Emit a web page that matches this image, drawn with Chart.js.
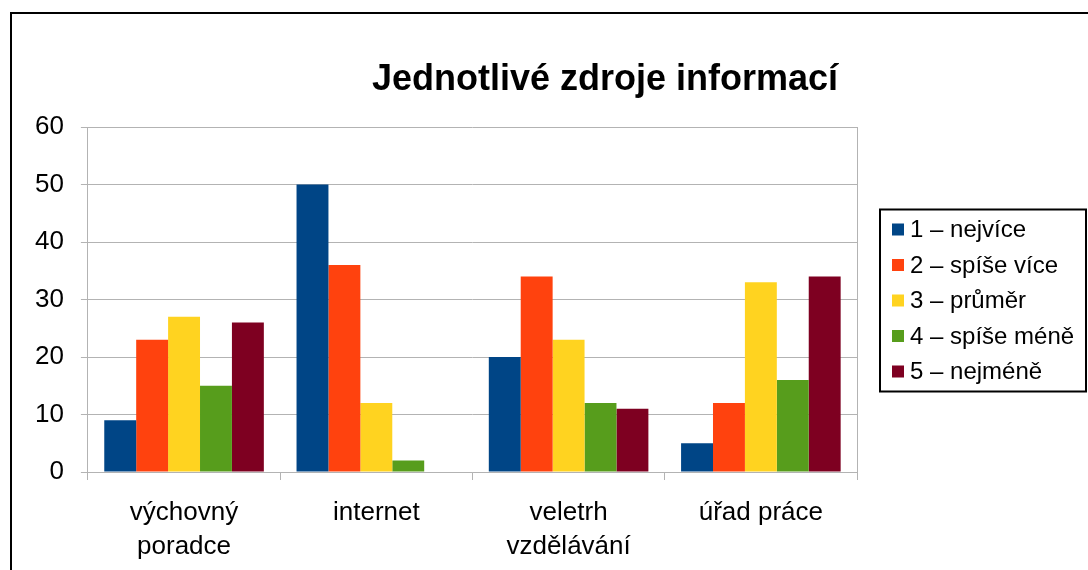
<!DOCTYPE html>
<html>
<head>
<meta charset="utf-8">
<script src="https://cdn.jsdelivr.net/npm/chart.js@4.4.1/dist/chart.umd.min.js"></script>
<style>
    html, body { margin: 0; padding: 0; background: #ffffff; overflow: hidden; }
    #frame { position: absolute; left: 10px; top: 12px; width: 1100px; height: 600px; border: 2px solid #000; box-sizing: border-box; }
    #wrap { position: absolute; left: 0; top: 0; width: 1088px; height: 570px; }
</style>
</head>
<body>
<div id="frame"></div>
<div id="wrap"><canvas id="zdroje"></canvas></div>
<script>
const categories = [["výchovný", "poradce"], "internet", ["veletrh", "vzdělávání"], "úřad práce"];
const seriesNames = ["1 – nejvíce", "2 – spíše více", "3 – průměr", "4 – spíše méně", "5 – nejméně"];
const nejvice = [9, 50, 20, 5];
const spiseVice = [23, 36, 34, 12];
const prumer = [27, 12, 23, 33];
const spiseMene = [15, 2, 12, 16];
const nejmene = [26, 0, 11, 34];
const yTicks = [0, 10, 20, 30, 40, 50, 60];
const colors = ["#004586", "#ff420e", "#ffd320", "#579d1c", "#7e0021"];

const titleText = "Jednotlivé zdroje informací";
const fontFamily = '"Liberation Sans", Arial, sans-serif';

// title sits off-centre in the original, so draw it by hand
const titlePlugin = {
    id: 'titlePlugin',
    afterDraw: function (chart) {
        const ctx = chart.ctx;
        ctx.save();
        ctx.font = 'bold 36px ' + fontFamily;
        ctx.fillStyle = '#000';
        ctx.textAlign = 'center';
        ctx.textBaseline = 'middle';
        ctx.fillText(titleText, 605, 80);
        ctx.restore();
    }
};

// right edge of the plot area
const plotBorder = {
    id: 'plotBorder',
    afterDraw: function (chart) {
        const a = chart.chartArea;
        const ctx = chart.ctx;
        ctx.save();
        ctx.strokeStyle = '#b3b3b3';
        ctx.lineWidth = 1;
        ctx.beginPath();
        ctx.moveTo(a.right + 0.5, a.top);
        ctx.lineTo(a.right + 0.5, a.bottom);
        ctx.stroke();
        ctx.restore();
    }
};

// boxed legend to the right of the plot
const boxedLegend = {
    id: 'boxedLegend',
    afterDraw: function (chart) {
        const a = chart.chartArea;
        const ctx = chart.ctx;
        const sets = chart.data.datasets;
        const rowH = 35.5;
        const boxW = 206, boxH = 182;
        const left = a.right + 23;
        const top = (a.top + a.bottom) / 2 - boxH / 2 + 1;
        ctx.save();
        ctx.strokeStyle = '#000';
        ctx.lineWidth = 2;
        ctx.strokeRect(left, top, boxW, boxH);
        ctx.font = '24px ' + fontFamily;
        ctx.textBaseline = 'middle';
        ctx.textAlign = 'left';
        sets.forEach(function (ds, i) {
            const cy = top + 20 + i * rowH;
            ctx.fillStyle = ds.backgroundColor;
            ctx.fillRect(left + 12, cy - 6, 12, 12);
            ctx.fillStyle = '#000';
            ctx.fillText(ds.label, left + 30, cy + 1);
        });
        ctx.restore();
    }
};

const allSeries = [nejvice, spiseVice, prumer, spiseMene, nejmene];

const ctx = document.getElementById('zdroje').getContext('2d');
const chart = new Chart(ctx, {
    type: 'bar',
    data: {
        labels: categories,
        datasets: allSeries.map(function (values, i) {
            return {
                label: seriesNames[i],
                data: values,
                backgroundColor: colors[i],
                borderWidth: 0,
                categoryPercentage: 0.83,
                barPercentage: 1.0
            };
        })
    },
    options: {
        responsive: true,
        maintainAspectRatio: false,
        animation: false,
        layout: { padding: { top: 127, left: 18, right: 231, bottom: 8 } },
        plugins: {
            title: { display: false },
            tooltip: { enabled: false },
            legend: { display: false }
        },
        scales: {
            x: {
                afterFit: function (axis) {
                    axis.height = 90;
                },
                grid: { drawOnChartArea: false, color: '#b3b3b3', tickLength: 8, offset: true },
                border: { color: '#b3b3b3' },
                ticks: {
                    color: '#000',
                    maxRotation: 0,
                    padding: 16,
                    font: { family: fontFamily, size: 26, lineHeight: 1.3 }
                }
            },
            y: {
                min: 0,
                max: 60,
                afterBuildTicks: function (axis) {
                    axis.ticks = yTicks.map(function (v) { return { value: v }; });
                },
                grid: { color: '#b3b3b3', tickLength: 7 },
                border: { color: '#b3b3b3' },
                ticks: {
                    color: '#000',
                    padding: 17,
                    font: { family: fontFamily, size: 26 }
                }
            }
        }
    },
    plugins: [titlePlugin, plotBorder, boxedLegend]
});
</script>
</body>
</html>
